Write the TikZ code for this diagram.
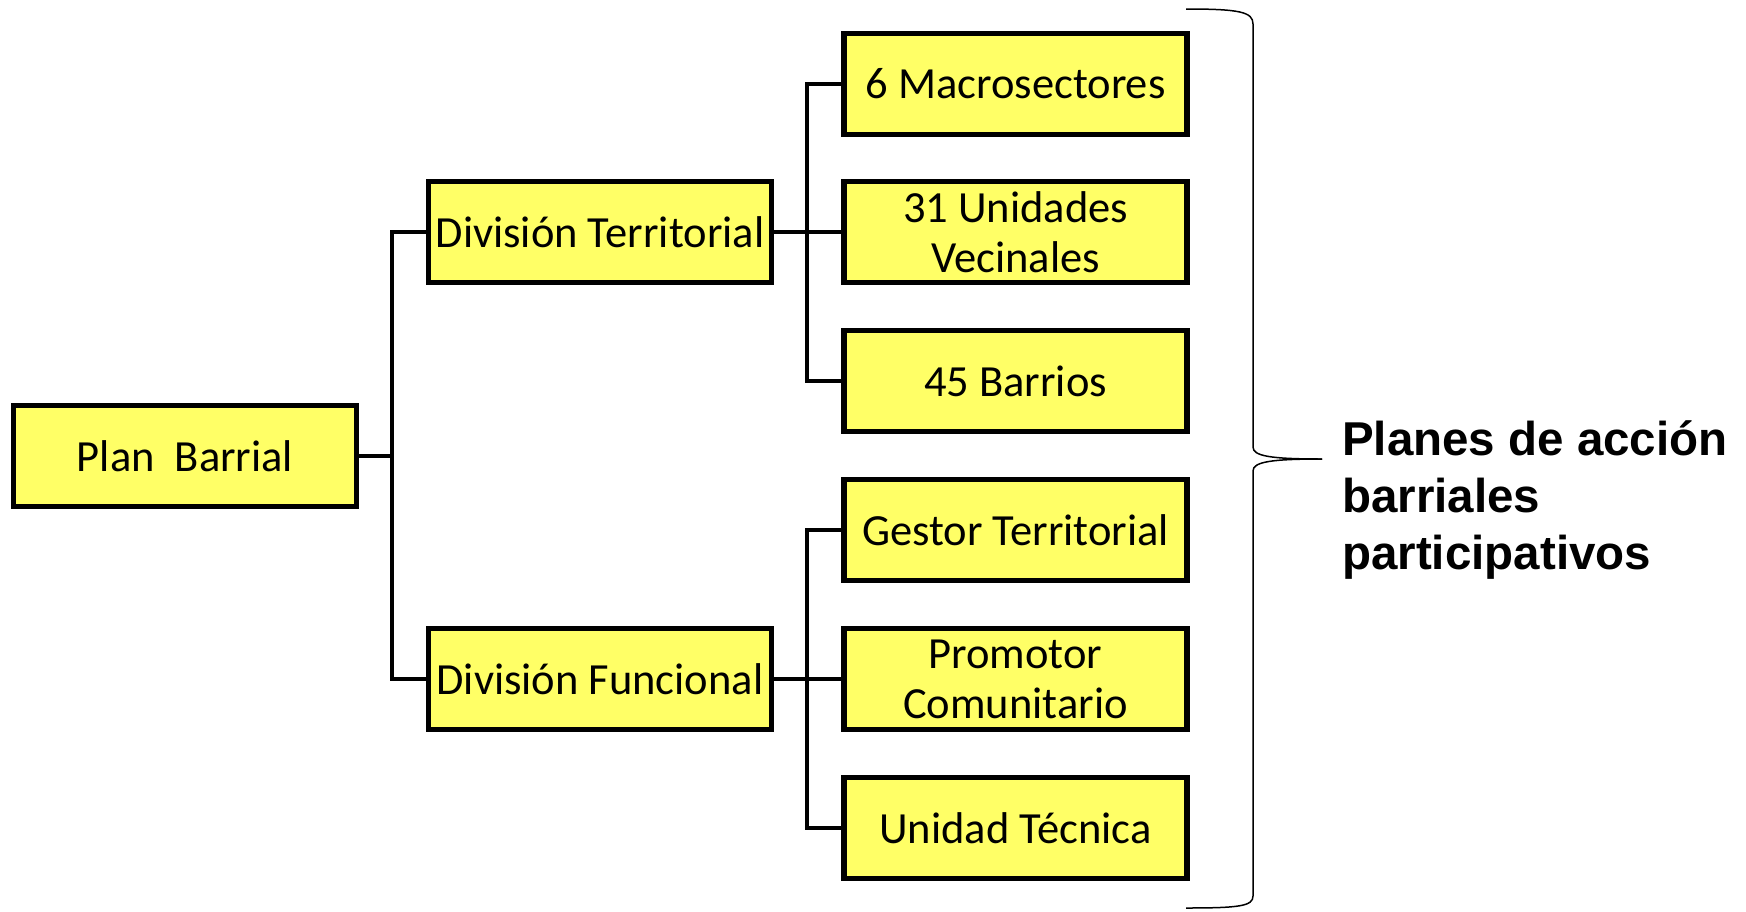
\documentclass[tikz,border=0pt]{standalone}
\usepackage{fontspec}
\setmainfont{Carlito}
\newfontfamily\headfont{Liberation Sans}
\definecolor{boxyellow}{HTML}{FFFF66}
\begin{document}
\begin{tikzpicture}[x=1pt,y=-1pt,
  box/.style={draw,line width=5.5pt,fill=boxyellow,minimum width=343pt,
    minimum height=101pt,inner sep=0pt,align=center,
    font=\fontsize{44.5}{50}\selectfont},
  link/.style={line width=4.5pt}]
\useasboundingbox (0,0) rectangle (1746,911);
% left and middle columns
\node[box] (plan) at (185,456) {Plan\ \ Barrial};
\node[box] (divt) at (600,232) {División Territorial};
\node[box] (divf) at (600,679) {División Funcional};
% right column
\node[box] (macro) at (1015.5,84) {6 Macrosectores};
\node[box] (unid) at (1015.5,232) {31 Unidades\\Vecinales};
\node[box] (barrios) at (1015.5,381) {45 Barrios};
\node[box] (gestor) at (1015.5,530) {Gestor Territorial};
\node[box] (promotor) at (1015.5,679) {Promotor\\Comunitario};
\node[box] (tecnica) at (1015.5,828) {Unidad Técnica};
% connectors
\coordinate (bus1) at (392,456);
\coordinate (bus2) at (807,232);
\coordinate (bus3) at (807,679);
\draw[link] (plan.east) -- (bus1);
\draw[link] (divt.west) -| (bus1) |- (divf.west);
\draw[link] (divt.east) -- (unid.west);
\draw[link] (macro.west) -| (bus2) |- (barrios.west);
\draw[link] (divf.east) -- (promotor.west);
\draw[link] (gestor.west) -| (bus3) |- (tecnica.west);
% brace
\coordinate (tip) at (1322,459);
\draw[line width=1.5pt] (1186,9) .. controls (1240,9) and (1253,12) .. (1253,24)
  -- (1253,447) .. controls (1253,456) and (1270,459) .. (tip);
\draw[line width=1.5pt] (tip) .. controls (1270,459) and (1253,462) .. (1253,471)
  -- (1253,896) .. controls (1253,906) and (1240,908) .. (1186,908);
\node[anchor=west,align=left,inner sep=0pt,
  font=\headfont\bfseries\fontsize{47.5}{57}\selectfont] (planes) at (1342,500)
  {Planes de acción\\barriales\\participativos};
\end{tikzpicture}
\end{document}
